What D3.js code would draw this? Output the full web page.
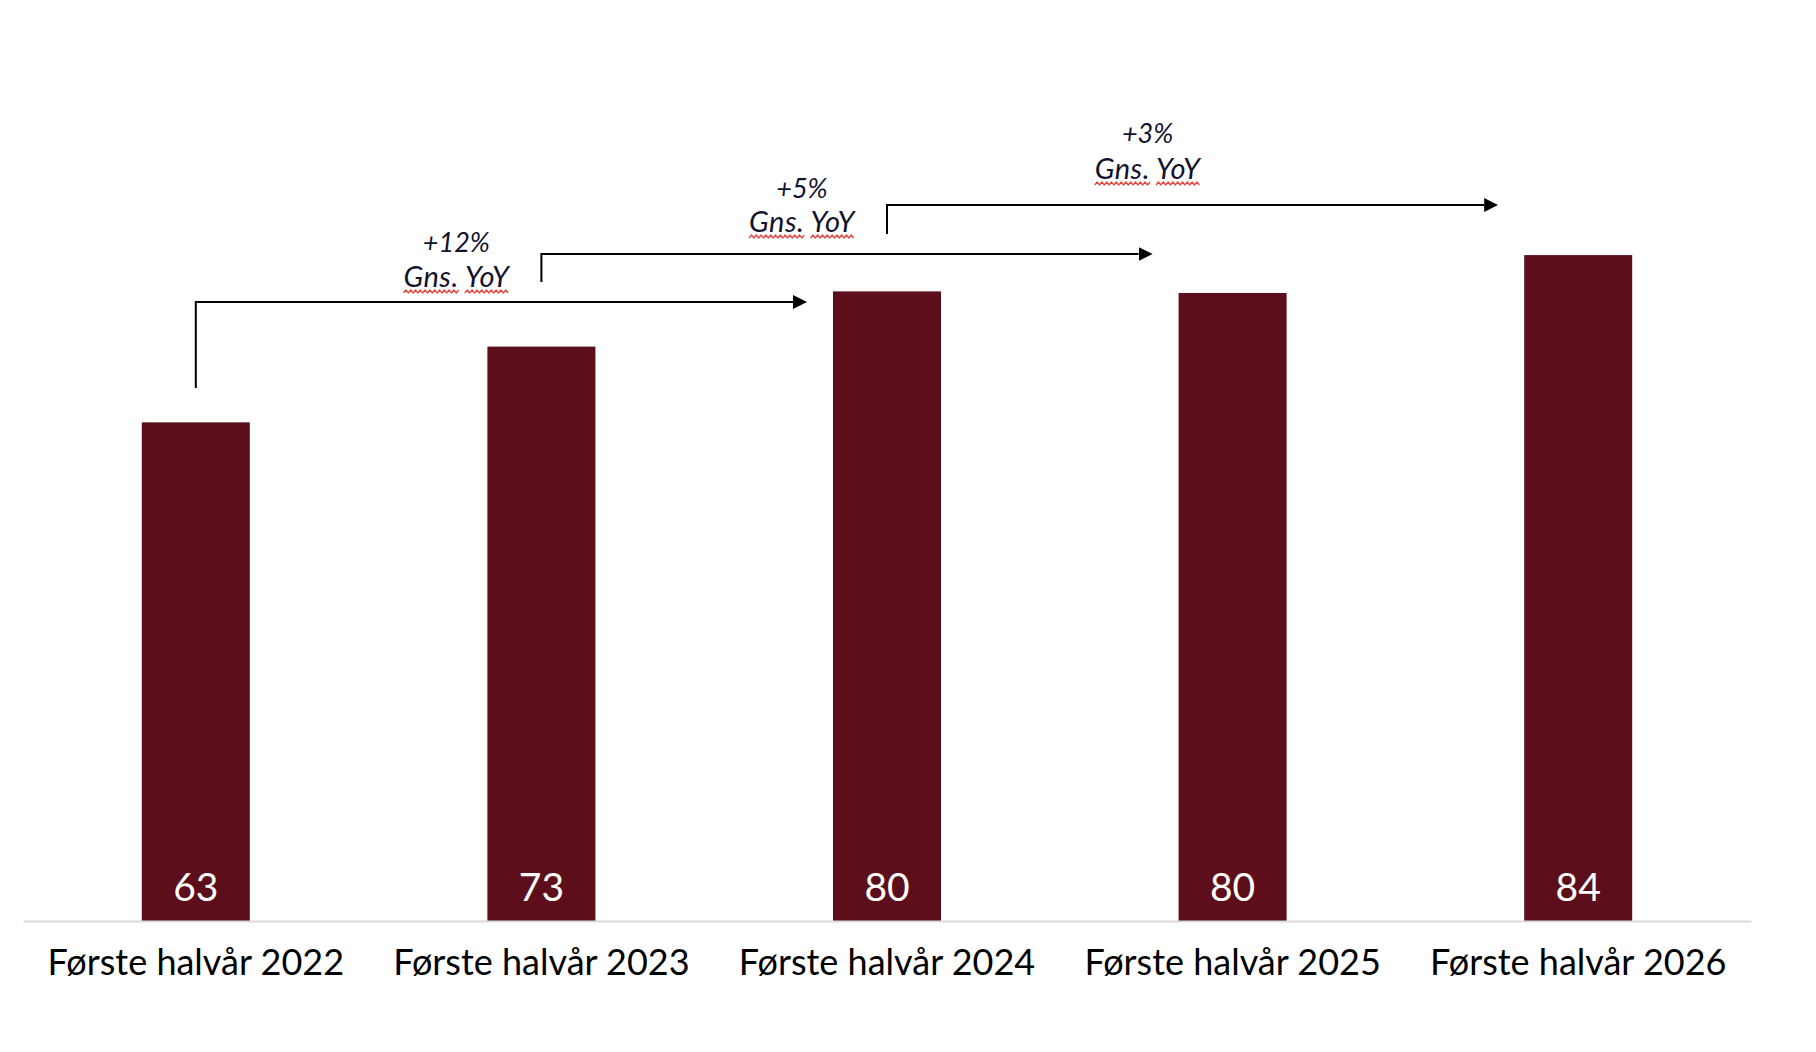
<!DOCTYPE html>
<html>
<head>
<meta charset="utf-8">
<script src="https://cdn.jsdelivr.net/npm/d3@7"></script>
<style>
  body { margin: 0; background: #fff; }
  text { font-family: Lato, "Noto Sans", sans-serif; }
</style>
</head>
<body>
<div id="chart"></div>
<script>
// chart data
var categories = ["Første halvår 2022", "Første halvår 2023", "Første halvår 2024", "Første halvår 2025", "Første halvår 2026"];
var values = [63.2, 72.8, 79.8, 79.6, 84.4];

// growth arrows: from bar -> to bar, label
var growthFrom = [0, 1, 2];
var growthTo = [2, 3, 4];
var growthLabels = ["+12%", "+5%", "+3%"];
var growthSub = "Gns. YoY";

var width = 1816,
    height = 1052,
    left = 23,
    right = 1751,
    baseY = 921;

var barColor = "#5c0f1a";

var svg = d3.select("#chart")
    .append("svg")
    .attr("width", width)
    .attr("height", height);

var x = d3.scaleBand()
    .domain(categories)
    .range([left, right])
    .paddingInner(0.6875)
    .paddingOuter(0.34375);

var y = d3.scaleLinear()
    .domain([0, 100])
    .range([baseY, baseY - 789]);

// bars
svg.append("g")
    .selectAll("rect")
    .data(values)
    .enter().append("rect")
    .attr("x", function (d, i) { return x(categories[i]); })
    .attr("y", function (d) { return y(d); })
    .attr("width", x.bandwidth())
    .attr("height", function (d) { return y(0) - y(d); })
    .style("fill", barColor);

// value labels inside bottom of bars
svg.append("g")
    .selectAll("text")
    .data(values)
    .enter().append("text")
    .attr("x", function (d, i) { return x(categories[i]) + x.bandwidth() / 2; })
    .attr("y", baseY - 20)
    .attr("text-anchor", "middle")
    .style("font-size", "39px")
    .style("fill", "#fff")
    .text(function (d) { return Math.round(d); });

// x axis
var axis = svg.append("g")
    .attr("transform", "translate(0," + baseY + ")")
    .call(d3.axisBottom(x).tickSize(0).tickSizeOuter(0));

axis.select(".domain")
    .style("stroke", "#d9d9d9")
    .style("stroke-width", 2);

axis.selectAll(".tick text")
    .attr("y", 54)
    .attr("dy", 0)
    .style("font-size", "36px")
    .style("font-family", "Lato, 'Noto Sans', sans-serif")
    .style("fill", "#000");

// arrowhead
svg.append("defs").append("marker")
    .attr("id", "head")
    .attr("viewBox", "0 0 10 10")
    .attr("refX", 0)
    .attr("refY", 5)
    .attr("markerWidth", 7)
    .attr("markerHeight", 7)
    .attr("markerUnits", "strokeWidth")
    .attr("orient", "auto")
    .append("path")
    .attr("d", "M0,0L10,5L0,10Z")
    .style("fill", "#000");

// layout of the growth annotations (pixels)
var lineY = [302, 254, 205],
    dropLen = [86, 28, 29],
    pctY = [252, 198, 143],
    subY = [287, 232, 179];

var ann = svg.append("g");

growthFrom.forEach(function (f, i) {
    var x0 = x(categories[f]) + x.bandwidth() / 2;
    var x1 = x(categories[growthTo[i]]) - 40;
    ann.append("path")
        .attr("d", "M" + x0 + "," + (lineY[i] + dropLen[i]) + "V" + lineY[i] + "H" + x1)
        .style("fill", "none")
        .style("stroke", "#000")
        .style("stroke-width", 2)
        .attr("marker-end", "url(#head)");

    var tx = x(categories[f + 1]) + x.bandwidth() / 2 - 85;

    ann.append("text")
        .attr("x", tx)
        .attr("y", pctY[i])
        .attr("text-anchor", "middle")
        .style("font-size", "27px")
        .style("font-style", "italic")
        .style("fill", "#12122e")
        .text(growthLabels[i]);

    var sub = ann.append("text")
        .attr("x", tx)
        .attr("y", subY[i])
        .attr("text-anchor", "middle")
        .style("font-size", "29px")
        .style("font-style", "italic")
        .style("letter-spacing", "0.5px")
        .style("fill", "#12122e")
        .text(growthSub);

    // red wavy spell-check underline under each word
    var node = sub.node();
    var full = node.getComputedTextLength();
    var start = tx - full / 2;
    var words = growthSub.split(" ");
    var pos = 0;
    words.forEach(function (w) {
        var wx = start + (pos > 0 ? node.getSubStringLength(0, pos) : 0);
        var ww = node.getSubStringLength(pos, w.length);
        var pts = [];
        for (var k = 0; k <= Math.floor(ww / 2.4); k++) {
            pts.push([wx + k * 2.4, subY[i] + (k % 2 === 0 ? 6 : 3)]);
        }
        ann.append("path")
            .attr("d", d3.line()(pts))
            .style("fill", "none")
            .style("stroke", "#e8453c")
            .style("stroke-width", 1.4);
        pos += w.length + 1;
    });
});
</script>
</body>
</html>
